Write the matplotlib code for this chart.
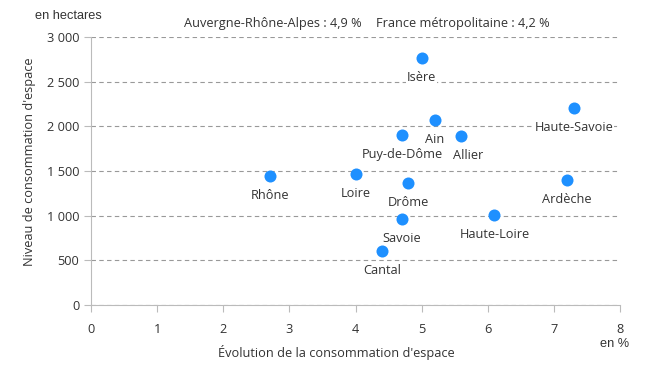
import matplotlib
matplotlib.use("Agg")
import matplotlib.pyplot as plt
import matplotlib.ticker as ticker

# départements : évolution (%) et niveau de consommation d'espace (ha)
names = ["Isère", "Ain", "Haute-Savoie", "Puy-de-Dôme", "Allier", "Rhône",
         "Loire", "Drôme", "Ardèche", "Savoie", "Haute-Loire", "Cantal"]
evolution = [5.0, 5.2, 7.3, 4.7, 5.6, 2.7, 4.0, 4.8, 7.2, 4.7, 6.1, 4.4]
niveau = [2765, 2070, 2205, 1905, 1890, 1445, 1465, 1365, 1400, 965, 1010, 605]
label_dx = [0, 0, 0, 0, 5, 0, 0, 0, 0, 0, 0, 0]

plt.rcParams['font.family'] = ['Open Sans', 'DejaVu Sans']
text_col = "#333333"
blue = "#1E90FF"
fs = 9.2

fig = plt.figure(figsize=(6.5, 3.65), dpi=100)
ax = fig.add_axes([0.14, 0.164, 0.814, 0.735])

ax.scatter(evolution, niveau, s=75, color=blue, zorder=3, linewidths=0)
for name, x, y, dx in zip(names, evolution, niveau, label_dx):
    ax.annotate(name, (x, y), xytext=(dx, -14), textcoords="offset points",
                ha="center", va="center", fontsize=fs, color=text_col, zorder=4,
                bbox=dict(boxstyle="square,pad=0.05", fc="white", ec="none"))

ax.set_xlim(0, 8)
ax.set_ylim(0, 3000)
ax.xaxis.set_major_locator(ticker.MultipleLocator(1))
ax.yaxis.set_major_locator(ticker.MultipleLocator(500))
ax.yaxis.set_major_formatter(ticker.FuncFormatter(lambda v, p: f"{int(v):,}".replace(",", " ")))
ax.grid(axis="y", linestyle=(0, (4, 3)), color="#999999", linewidth=0.8)
ax.set_axisbelow(True)

for s in ["top", "right"]:
    ax.spines[s].set_visible(False)
for s in ["left", "bottom"]:
    ax.spines[s].set_color("#bbbbbb")
ax.tick_params(colors="#bbbbbb", labelcolor=text_col, labelsize=fs, length=5, width=0.8)
ax.tick_params(axis="x", pad=8)

fig.text(336 / 650, 1 - 352 / 365, "Évolution de la consommation d'espace", fontsize=fs,
         color=text_col, ha="center", va="center")
fig.text(30 / 650, 1 - 162 / 365, "Niveau de consommation d'espace", fontsize=fs,
         color=text_col, ha="center", va="center", rotation=90)

fig.text(0.054, 0.955, "en hectares", fontsize=fs, family="Liberation Sans", color=text_col, va="center")
fig.text(0.946, 0.058, "en %", fontsize=fs, family="Liberation Sans", color=text_col, va="center", ha="center")
fig.text(0.283, 0.935, "Auvergne-Rhône-Alpes : 4,9 %", fontsize=fs, color=text_col, va="center")
fig.text(0.578, 0.935, "France métropolitaine : 4,2 %", fontsize=fs, color=text_col, va="center")

fig.savefig("out.png", dpi=100)
